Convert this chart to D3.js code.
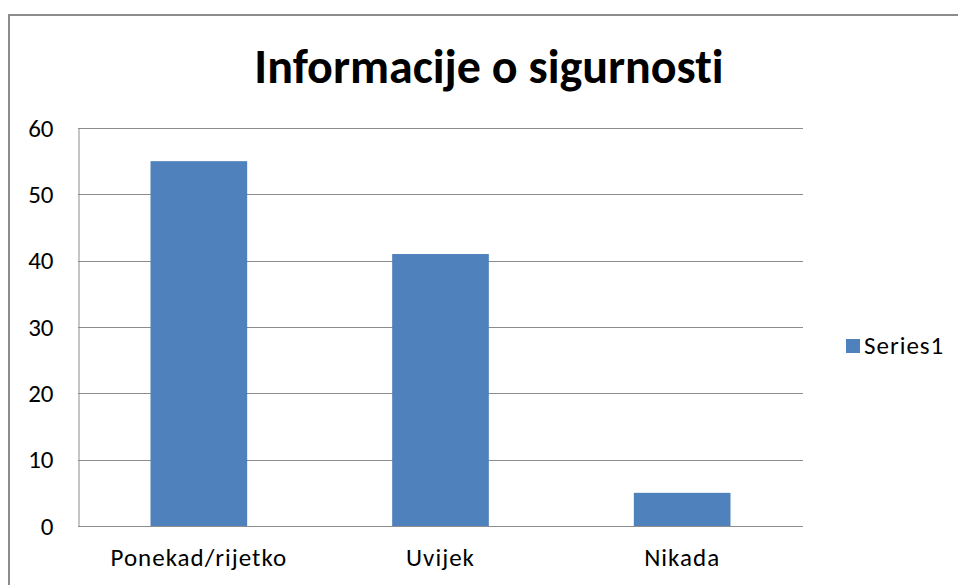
<!DOCTYPE html>
<html>
<head>
<meta charset="utf-8">
<script src="https://cdn.jsdelivr.net/npm/d3@7"></script>
<style>
    body { margin: 0; background: #fff; }
    svg { display: block; }
    svg text { font-family: Carlito, Calibri, Lato, sans-serif; font-variant-ligatures: none; }
</style>
</head>
<body>
<svg id="chart"></svg>
<script>
const categories = ["Ponekad/rijetko", "Uvijek", "Nikada"]
const series1 = [55, 41, 5]
const yTicks = [0, 10, 20, 30, 40, 50, 60]
const seriesName = "Series1"
const title = "Informacije o sigurnosti"

const width = 958
const height = 585
const margin = { top: 128, right: 155, bottom: 59, left: 78 }

const svg = d3.select("#chart")
    .attr("width", width)
    .attr("height", height)

// outer chart frame (runs past the window edges)
svg.append("rect")
    .attr("x", 9)
    .attr("y", 15)
    .attr("width", 1000)
    .attr("height", 700)
    .attr("fill", "white")
    .attr("stroke", "#8c8c8c")
    .attr("stroke-width", 2)

const x = d3.scaleBand()
    .domain(categories)
    .range([margin.left, width - margin.right])
    .paddingInner(0.6)
    .paddingOuter(0.3)

const y = d3.scaleLinear()
    .domain([0, 60])
    .range([height - margin.bottom, margin.top])

// gridlines
svg.append("g")
    .selectAll("line")
    .data(yTicks)
    .enter()
    .append("line")
    .attr("x1", margin.left)
    .attr("x2", width - margin.right)
    .attr("y1", d => Math.round(y(d)) + 0.5)
    .attr("y2", d => Math.round(y(d)) + 0.5)
    .attr("stroke", "#8c8c8c")
    .attr("stroke-width", 1)

// y axis
const yAxis = svg.append("g")
    .attr("transform", `translate(${margin.left + 0.5},0)`)
    .call(d3.axisLeft(y).tickValues(yTicks).tickSize(0).tickPadding(25))
yAxis.attr("font-family", null)
yAxis.select(".domain").attr("stroke", "#8c8c8c")
yAxis.selectAll("text")
    .attr("font-size", 25)
    .attr("fill", "#000")

// bars
svg.append("g")
    .selectAll("rect")
    .data(series1)
    .enter()
    .append("rect")
    .attr("x", (d, i) => x(categories[i]))
    .attr("y", d => y(d))
    .attr("width", x.bandwidth())
    .attr("height", d => y(0) - y(d))
    .attr("fill", "#4f81bd")

// x axis labels
const xAxis = svg.append("g")
    .attr("transform", `translate(0,${height - margin.bottom})`)
    .call(d3.axisBottom(x).tickSize(0).tickPadding(22))
xAxis.attr("font-family", null)
xAxis.select(".domain").remove()
xAxis.selectAll("text")
    .attr("font-size", 25)
    .attr("letter-spacing", 1)
    .attr("fill", "#000")

// title
svg.append("text")
    .attr("x", 489)
    .attr("y", 83)
    .attr("text-anchor", "middle")
    .attr("font-size", 48)
    .attr("font-weight", "bold")
    .text(title)

// legend
const legend = svg.append("g").attr("transform", "translate(846,339)")
legend.append("rect")
    .attr("width", 14)
    .attr("height", 14)
    .attr("fill", "#4f81bd")
legend.append("text")
    .attr("x", 18)
    .attr("y", 7)
    .attr("dy", "0.32em")
    .attr("font-size", 25)
    .attr("letter-spacing", 1)
    .text(seriesName)
</script>
</body>
</html>
